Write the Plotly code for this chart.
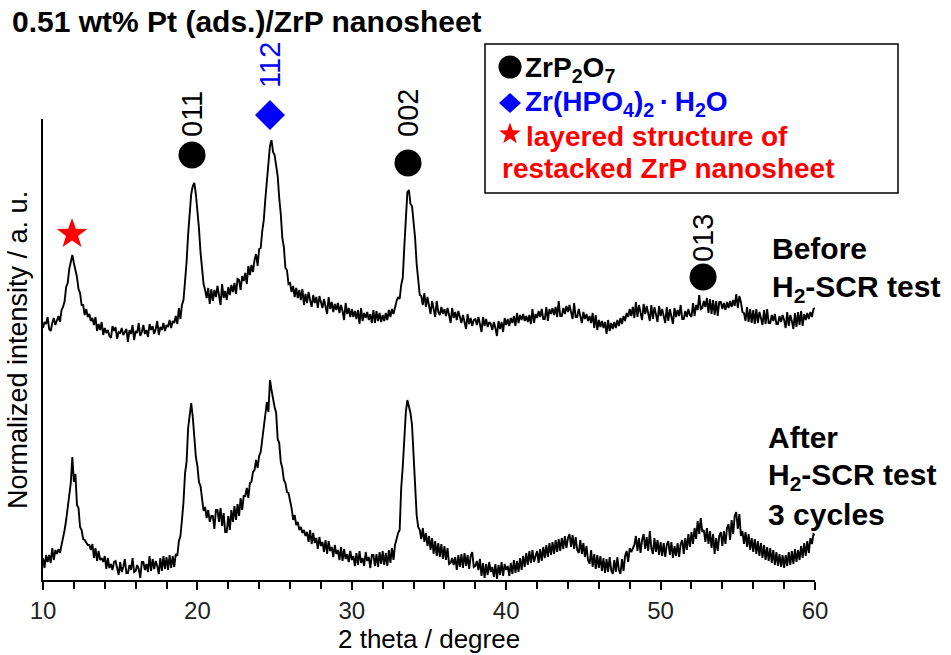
import plotly.graph_objects as go

# 2theta grid: 10.0 .. 60.0 step 0.1
two_theta = [round(10 + i * 0.1, 1) for i in range(501)]

before = [
    252, 258, 256, 263, 251, 249, 257, 262, 255, 260,
    264, 258, 270, 273, 279, 293, 297, 311, 320, 325,
    317, 309, 303, 291, 287, 275, 275, 265, 271, 263,
    266, 259, 262, 255, 263, 249, 256, 250, 258, 245,
    252, 247, 250, 244, 242, 254, 249, 253, 241, 248,
    247, 252, 245, 248, 251, 238, 250, 246, 255, 240,
    249, 247, 257, 244, 248, 255, 246, 250, 243, 256,
    250, 254, 246, 251, 259, 245, 253, 250, 257, 249,
    255, 253, 260, 252, 259, 257, 264, 256, 272, 261,
    275, 280, 296, 318, 346, 366, 386, 394, 397, 386,
    370, 352, 328, 312, 296, 290, 282, 292, 276, 291,
    279, 290, 283, 294, 286, 275, 296, 282, 289, 280,
    293, 285, 295, 288, 297, 286, 301, 300, 290, 304,
    299, 307, 296, 314, 305, 315, 308, 320, 326, 314,
    331, 332, 349, 360, 381, 400, 424, 434, 440, 428,
    425, 414, 404, 382, 366, 342, 333, 312, 310, 296,
    297, 288, 294, 283, 292, 282, 290, 280, 291, 275,
    286, 277, 288, 280, 273, 285, 277, 283, 272, 284,
    279, 272, 281, 275, 266, 283, 271, 278, 268, 276,
    270, 277, 267, 275, 269, 260, 277, 266, 272, 263,
    271, 263, 269, 261, 270, 256, 272, 259, 267, 262,
    268, 260, 266, 257, 270, 257, 269, 259, 267, 258,
    265, 259, 267, 260, 270, 263, 271, 266, 273, 279,
    283, 281, 295, 302, 333, 360, 388, 390, 376, 374,
    358, 342, 316, 302, 285, 284, 275, 287, 273, 283,
    275, 266, 279, 272, 263, 279, 268, 265, 273, 266,
    271, 264, 272, 265, 257, 272, 262, 268, 260, 269,
    263, 257, 265, 259, 251, 266, 256, 262, 254, 260,
    261, 255, 263, 256, 248, 263, 254, 261, 253, 258,
    256, 250, 258, 252, 244, 259, 251, 258, 248, 262,
    255, 261, 254, 262, 257, 264, 254, 267, 257, 265,
    260, 266, 259, 264, 258, 265, 256, 271, 257, 266,
    262, 269, 263, 271, 261, 261, 273, 259, 271, 266,
    272, 265, 273, 263, 279, 264, 264, 272, 266, 274,
    268, 275, 269, 261, 277, 263, 263, 271, 264, 257,
    268, 261, 266, 259, 264, 257, 267, 252, 265, 250,
    260, 253, 259, 252, 258, 246, 260, 249, 257, 251,
    258, 252, 260, 254, 262, 256, 264, 259, 267, 263,
    271, 264, 273, 262, 278, 263, 275, 268, 260, 276,
    266, 274, 267, 259, 275, 261, 273, 266, 258, 274,
    264, 271, 265, 257, 273, 259, 271, 264, 256, 272,
    263, 270, 264, 275, 261, 261, 269, 263, 271, 265,
    263, 277, 264, 275, 270, 285, 271, 272, 279, 273,
    282, 267, 281, 266, 280, 265, 279, 264, 278, 278,
    271, 277, 270, 278, 272, 279, 273, 280, 274, 286,
    272, 284, 278, 268, 267, 259, 273, 258, 271, 257,
    270, 256, 271, 257, 268, 262, 255, 270, 256, 271,
    257, 257, 265, 259, 266, 256, 256, 264, 258, 265,
    260, 252, 268, 254, 265, 259, 251, 267, 253, 268,
    255, 269, 254, 266, 260, 267, 261, 268, 263, 271,
    272,
]

after = [
    22, 12, 25, 18, 25, 17, 32, 20, 30, 26,
    31, 27, 35, 42, 50, 60, 72, 88, 97, 123,
    98, 106, 75, 72, 53, 50, 41, 40, 38, 35,
    35, 30, 36, 22, 32, 19, 29, 20, 22, 18,
    24, 11, 22, 12, 16, 10, 18, 19, 12, 5,
    18, 8, 13, 21, 7, 7, 15, 10, 22, 8,
    9, 15, 11, 2, 18, 18, 10, 16, 8, 24,
    9, 21, 11, 19, 14, 6, 22, 9, 24, 11,
    23, 10, 25, 12, 24, 13, 26, 24, 39, 44,
    60, 78, 107, 118, 152, 168, 177, 163, 142, 123,
    114, 98, 94, 82, 69, 73, 62, 70, 58, 64,
    64, 51, 70, 70, 58, 72, 54, 67, 48, 48,
    64, 50, 70, 58, 74, 60, 76, 64, 82, 70,
    84, 84, 92, 82, 97, 98, 108, 110, 120, 112,
    124, 128, 142, 155, 167, 178, 168, 200, 190, 180,
    173, 167, 141, 137, 118, 112, 100, 97, 88, 87,
    80, 72, 60, 65, 55, 58, 50, 53, 47, 50,
    44, 48, 38, 50, 36, 47, 37, 42, 31, 43,
    34, 38, 28, 40, 26, 39, 29, 33, 23, 35,
    26, 30, 20, 33, 19, 31, 21, 26, 18, 29,
    20, 24, 14, 27, 15, 29, 17, 22, 14, 28,
    19, 23, 12, 25, 25, 14, 26, 13, 28, 16,
    29, 15, 27, 14, 30, 17, 32, 20, 35, 42,
    47, 50, 92, 113, 147, 168, 180, 174, 167, 155,
    122, 88, 65, 53, 50, 41, 52, 38, 47, 34,
    44, 30, 42, 26, 39, 24, 37, 23, 36, 21,
    34, 20, 32, 16, 17, 22, 15, 23, 10, 25,
    13, 26, 12, 27, 14, 25, 11, 24, 28, 13,
    14, 19, 10, 21, 4, 17, 2, 16, 5, 18,
    8, 13, 3, 16, 1, 15, 5, 18, 4, 16,
    10, 14, 4, 17, 6, 20, 7, 19, 8, 22,
    10, 24, 13, 27, 15, 29, 17, 30, 18, 24,
    29, 17, 31, 19, 33, 22, 35, 23, 37, 25,
    38, 26, 40, 28, 41, 29, 42, 31, 44, 32,
    42, 46, 33, 45, 31, 43, 30, 27, 40, 26,
    37, 23, 34, 20, 16, 30, 13, 26, 11, 25,
    12, 24, 9, 22, 7, 21, 8, 23, 10, 6,
    20, 8, 23, 10, 6, 21, 9, 24, 29, 18,
    32, 28, 31, 35, 44, 29, 42, 27, 40, 46,
    31, 43, 29, 49, 32, 26, 42, 28, 40, 25,
    38, 24, 37, 23, 35, 39, 25, 38, 22, 34,
    24, 37, 23, 36, 40, 26, 42, 30, 46, 33,
    48, 36, 52, 41, 59, 46, 62, 48, 50, 38,
    52, 36, 49, 32, 46, 26, 42, 29, 44, 48,
    34, 49, 36, 52, 56, 40, 60, 46, 64, 68,
    51, 66, 44, 49, 36, 48, 33, 46, 30, 42,
    28, 41, 26, 39, 24, 37, 22, 35, 20, 33,
    19, 32, 17, 30, 15, 28, 14, 26, 13, 25,
    12, 25, 14, 28, 15, 29, 16, 31, 18, 30,
    20, 34, 22, 37, 24, 39, 27, 42, 36, 46,
    45,
]

# peak markers (2theta, marker height, label bottom height, label)
circle_pos = [19.65, 33.64, 52.75]
circle_h = [425, 417, 303]
circle_lbl_h = [441, 441, 316]
circle_lbl = ["011", "002", "013"]
diamond_pos = [24.7]
diamond_h = [465]
diamond_lbl_h = [490]
diamond_lbl = ["112"]
star_pos = [11.88]
star_h = [346]

x_ticks = [10, 20, 30, 40, 50, 60]

W, H = 951, 655
L, R, T, B = 43, 815, 119, 580
YMAX = 461

def px(xp):
    return (xp - L) / (R - L)

def py(yp):
    return (B - yp) / (B - T)

FONT = "Liberation Sans, Arial, sans-serif"
BLUE, RED = "#0000ff", "#ff0000"

STAR = [(0, 1), (0.24, 0.33), (0.95, 0.31), (0.38, -0.13), (0.59, -0.81),
        (0, -0.4), (-0.59, -0.81), (-0.38, -0.13), (-0.95, 0.31), (-0.24, 0.33)]

def star_path(r):
    pts = [f"{x * r:.2f} {y * r:.2f}" for x, y in STAR]
    return "M " + " L ".join(pts) + " Z"

def diamond_path(hw, hh):
    return f"M {-hw} 0 L 0 {hh} L {hw} 0 L 0 {-hh} Z"

fig = go.Figure()
fig.add_trace(go.Scatter(x=two_theta, y=before, mode="lines",
                         line=dict(color="black", width=1.9), showlegend=False))
fig.add_trace(go.Scatter(x=two_theta, y=after, mode="lines",
                         line=dict(color="black", width=1.9), showlegend=False))

shapes = []
def marker_shape(kind, xref, x, yref, y, color, size):
    base = dict(xref=xref, yref=yref, xsizemode="pixel", ysizemode="pixel",
                xanchor=x, yanchor=y, fillcolor=color, line=dict(width=0), layer="above")
    if kind == "circle":
        base.update(type="circle", x0=-size / 2, x1=size / 2, y0=-size / 2, y1=size / 2)
    elif kind == "diamond":
        base.update(type="path", path=diamond_path(size[0], size[1]))
    else:
        base.update(type="path", path=star_path(size))
    shapes.append(base)

for xv, hv in zip(circle_pos, circle_h):
    marker_shape("circle", "x", xv, "paper", hv / YMAX, "black", 27)
for xv, hv in zip(diamond_pos, diamond_h):
    marker_shape("diamond", "x", xv, "paper", hv / YMAX, BLUE, (15, 15))
for xv, hv in zip(star_pos, star_h):
    marker_shape("star", "x", xv, "paper", hv / YMAX, RED, 16)

ann = []
for xv, yv, t in zip(circle_pos, circle_lbl_h, circle_lbl):
    ann.append(dict(x=xv, y=yv / YMAX, xref="x", yref="paper", text=t, textangle=-90,
                    xanchor="center", yanchor="bottom", showarrow=False,
                    font=dict(family=FONT, size=29, color="black")))
for xv, yv, t in zip(diamond_pos, diamond_lbl_h, diamond_lbl):
    ann.append(dict(x=xv, y=yv / YMAX, xref="x", yref="paper", text=t, textangle=-90,
                    xanchor="center", yanchor="bottom", showarrow=False,
                    font=dict(family=FONT, size=29, color=BLUE)))

def label(text, xp, yp, size, color="black", anchor="left"):
    ann.append(dict(x=px(xp), y=py(yp), xref="paper", yref="paper", text=text,
                    showarrow=False, xanchor=anchor, yanchor="middle",
                    font=dict(family=FONT, size=size, color=color)))

label("<b>0.51 wt% Pt (ads.)/ZrP nanosheet</b>", 10, 22, 30)
label("<b>ZrP<sub>2</sub>O<sub>7</sub></b>", 523, 70, 28)
label("<b>Zr(HPO<sub>4</sub>)<sub>2</sub>\u2009·\u2009H<sub>2</sub>O</b>", 523, 104, 28, BLUE)
label("<b>layered structure of</b>", 524, 136, 28, RED)
label("<b>restacked ZrP nanosheet</b>", 500, 169, 28, RED)
label("<b>Before</b>", 770, 248, 30)
label("<b>H<sub>2</sub>-SCR test</b>", 770, 288, 30)
label("<b>After</b>", 766, 438, 30)
label("<b>H<sub>2</sub>-SCR test</b>", 766, 476, 30)
label("<b>3 cycles</b>", 766, 514, 30)
label("2 theta / degree", 429, 639, 26, anchor="center")
ann.append(dict(x=px(18), y=py(350), xref="paper", yref="paper", text="Normalized intensity / a. u.",
                textangle=-90, showarrow=False, xanchor="center", yanchor="middle",
                font=dict(family=FONT, size=27, color="black")))

shapes.append(dict(type="rect", xref="paper", yref="paper", x0=px(485), x1=px(898),
                   y0=py(44), y1=py(193), line=dict(color="black", width=1.5),
                   fillcolor="rgba(0,0,0,0)"))
# legend symbols
marker_shape("circle", "paper", px(510), "paper", py(67), "black", 23)
marker_shape("diamond", "paper", px(510), "paper", py(103), BLUE, (11, 10))
marker_shape("star", "paper", px(510), "paper", py(134), RED, 11.5)

fig.update_layout(
    width=W, height=H,
    margin=dict(l=L, r=W - R, t=T, b=H - B, pad=0),
    plot_bgcolor="white", paper_bgcolor="white",
    annotations=ann, shapes=shapes,
    font=dict(family=FONT, color="black"),
    xaxis=dict(range=[10, 60], tickvals=x_ticks, ticks="outside", ticklen=8, tickwidth=1.5,
               tickcolor="black", showline=True, linecolor="black", linewidth=1.5,
               showgrid=False, zeroline=False, tickfont=dict(family=FONT, size=24, color="#222"),
               minor=dict(dtick=2, ticks="outside", ticklen=7, tickwidth=1.5, tickcolor="black")),
    yaxis=dict(range=[0, YMAX], showline=True, linecolor="black", linewidth=1.5,
               showticklabels=False, ticks="", showgrid=False, zeroline=False),
)

fig.write_html("out.html")
